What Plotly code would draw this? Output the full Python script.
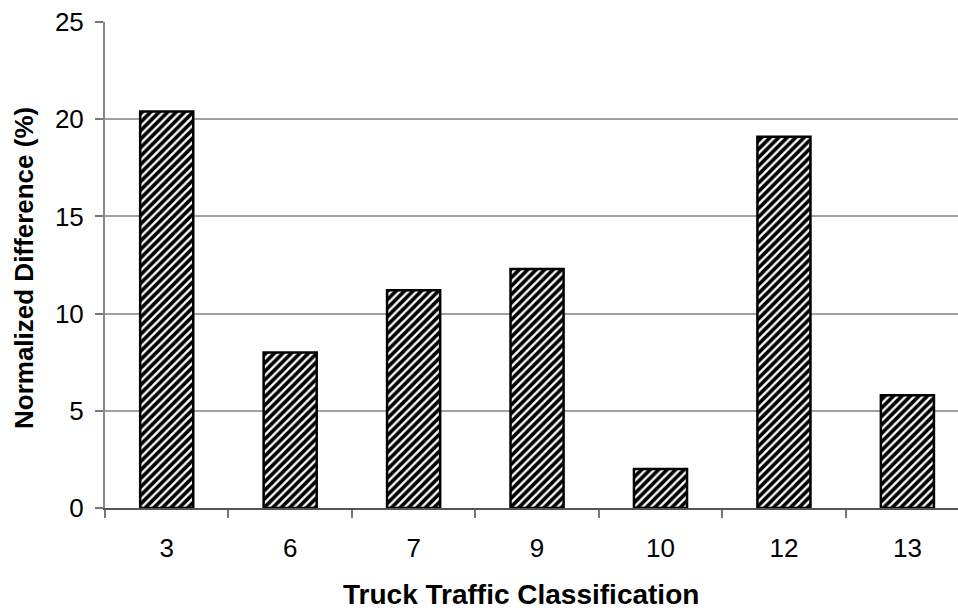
import plotly.graph_objects as go

categories = ["3", "6", "7", "9", "10", "12", "13"]
values = [20.4, 8.0, 11.2, 12.3, 2.0, 19.1, 5.8]
y_ticks = [0, 5, 10, 15, 20, 25]
x_title = "Truck Traffic Classification"
y_title = "Normalized Difference (%)"

W, H = 958, 611
L, R, T, B = 105, 0, 22, 103

fig = go.Figure()
fig.add_trace(go.Bar(
    x=categories,
    y=values,
    width=0.43,
    marker=dict(
        color="white",
        line=dict(color="black", width=2.5),
        pattern=dict(shape="/", fgcolor="black", bgcolor="white", size=6, solidity=0.62, fgopacity=1),
    ),
))

fig.update_layout(
    width=W, height=H,
    margin=dict(l=L, r=R, t=T, b=B, autoexpand=False),
    paper_bgcolor="white", plot_bgcolor="white",
    showlegend=False,
    font=dict(family="Liberation Sans, Arial, sans-serif", color="black"),
)

fig.update_xaxes(
    type="category",
    range=[-0.5, 6.41],
    automargin=False,
    showline=True, linecolor="#555555", linewidth=2,
    ticks="outside", tickson="boundaries", ticklen=8, tickcolor="#777777", tickwidth=2,
    tickfont=dict(size=26),
    ticklabelstandoff=16,
    showgrid=False,
)
fig.update_yaxes(
    range=[0, 25],
    tickvals=y_ticks,
    automargin=False,
    showline=True, linecolor="#888888", linewidth=2,
    ticks="outside", ticklen=8, tickcolor="#777777", tickwidth=2,
    tickfont=dict(size=26),
    ticklabelstandoff=6,
    showgrid=True, gridcolor="#a0a0a0", gridwidth=1.5,
    zeroline=False,
)

plot_h = H - T - B
plot_w = W - L - R
fig.add_annotation(
    text="<b>" + x_title + "</b>", xref="paper", yref="paper",
    x=(521 - L) / plot_w, y=-(594 - (H - B)) / plot_h,
    xanchor="center", yanchor="middle", showarrow=False,
    font=dict(size=28, color="black"),
)
fig.add_annotation(
    text="<b>" + y_title + "</b>", xref="paper", yref="paper",
    x=-(L - 24) / plot_w, y=((H - B) - 268) / plot_h,
    xanchor="center", yanchor="middle", showarrow=False, textangle=-90,
    font=dict(size=26, color="black"),
)

# remove the browser's default 8px body margin so the figure fills the window
fig.write_html("out.html", config={"displayModeBar": False},
               post_script="document.body.style.margin='0';")
